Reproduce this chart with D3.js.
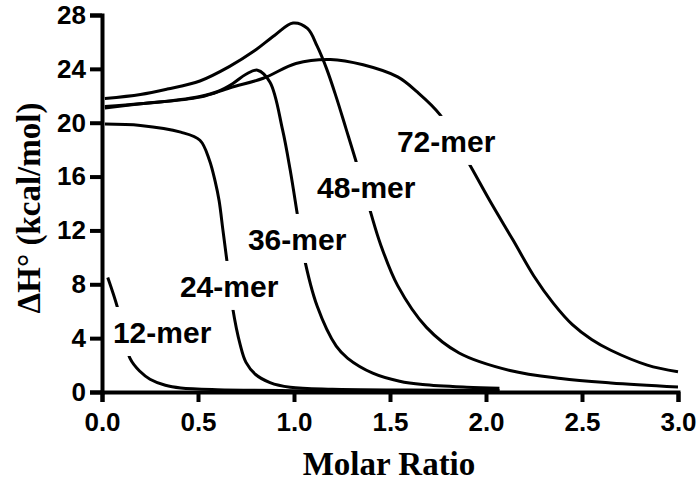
<!DOCTYPE html>
<html lang="en">
<head>
    <meta charset="UTF-8">
    <title>Molar Ratio vs dH</title>
    <script src="https://d3js.org/d3.v7.min.js"></script>
    <style>
        body { margin: 0; background: #fff; }
        .axis path,
        .axis line {
            fill: none;
            stroke: #000;
            stroke-width: 4px;
        }
        .axis text {
            font-family: "Liberation Sans", Arial, sans-serif;
            font-weight: bold;
            font-size: 26px;
            fill: #000;
        }
        .curve {
            fill: none;
            stroke: #000;
            stroke-width: 3px;
        }
        .label {
            font-family: "Liberation Sans", Arial, sans-serif;
            font-weight: bold;
            font-size: 30px;
        }
        .title {
            font-family: "Liberation Serif", "Times New Roman", serif;
            font-weight: bold;
            font-size: 33px;
        }
    </style>
</head>
<body>
<script>
    // values: molar ratio (x) and dH in kcal/mol (y)
    var ratio12 = [0.03, 0.08, 0.146, 0.2, 0.25, 0.33, 0.41, 0.6, 1.0, 1.5, 2.07];
    var dh12    = [8.5, 6.3, 2.5, 1.5, 0.95, 0.5, 0.3, 0.17, 0.1, 0.08, 0.07];

    var ratio24 = [0.015, 0.2, 0.41, 0.51, 0.56, 0.59, 0.61, 0.63, 0.65, 0.68, 0.72, 0.75, 0.8, 0.875, 0.98, 1.2, 1.6, 2.07];
    var dh24    = [19.9, 19.8, 19.3, 18.7, 17.2, 15.6, 14.2, 12.0, 9.8, 6.3, 3.5, 2.2, 1.3, 0.7, 0.35, 0.2, 0.15, 0.12];

    var ratio36 = [0.015, 0.2, 0.4, 0.51, 0.6, 0.68, 0.75, 0.81, 0.875, 0.94, 0.98, 1.015, 1.05, 1.12, 1.22, 1.28, 1.41, 1.55, 1.67, 1.9, 2.07];
    var dh36    = [21.2, 21.4, 21.7, 21.95, 22.3, 22.9, 23.6, 23.9, 23.0, 19.5, 16.5, 13.4, 10.2, 6.4, 3.4, 2.5, 1.4, 0.8, 0.55, 0.35, 0.27];

    var ratio48 = [0.015, 0.2, 0.34, 0.51, 0.667, 0.79, 0.9, 0.995, 1.07, 1.12, 1.17, 1.22, 1.27, 1.33, 1.4, 1.45, 1.54, 1.69, 1.86, 2.125, 2.39, 2.65, 3.0];
    var dh48    = [21.8, 22.1, 22.5, 23.1, 24.2, 25.3, 26.5, 27.4, 27.0, 25.7, 24.0, 21.9, 19.6, 16.8, 13.3, 11.0, 7.9, 4.8, 2.9, 1.6, 1.0, 0.67, 0.37];

    var ratio72 = [0.015, 0.2, 0.51, 0.667, 0.84, 1.01, 1.19, 1.36, 1.54, 1.64, 1.76, 1.91, 2.02, 2.14, 2.25, 2.35, 2.45, 2.55, 2.65, 2.84, 3.0];
    var dh72    = [21.1, 21.4, 21.9, 22.6, 23.3, 24.4, 24.7, 24.3, 23.4, 22.3, 20.6, 17.0, 14.2, 11.3, 8.6, 6.6, 5.0, 3.9, 3.1, 2.0, 1.5];

    var seriesNames = ["12-mer", "24-mer", "36-mer", "48-mer", "72-mer"];
    var seriesX = [ratio12, ratio24, ratio36, ratio48, ratio72];
    var seriesY = [dh12, dh24, dh36, dh48, dh72];

    // label anchors (left edge, baseline) in data units
    var labelX = [0.057, 0.406, 0.76, 1.12, 1.536];
    var labelY = [3.64, 7.06, 10.55, 14.41, 17.83];

    var xTicks = [0, 0.5, 1.0, 1.5, 2.0, 2.5, 3.0];
    var yTicks = [0, 4, 8, 12, 16, 20, 24, 28];

    var w = 699, h = 482;
    var padding = { top: 15, right: 21, bottom: 90, left: 102 };

    var svg = d3.select("body")
        .append("svg")
        .attr("width", w)
        .attr("height", h);

    var x = d3.scaleLinear().domain([0, 3]).range([padding.left, w - padding.right]);
    var y = d3.scaleLinear().domain([0, 28]).range([h - padding.bottom, padding.top]);

    var line = d3.line()
        .x(d => x(d[0]))
        .y(d => y(d[1]))
        .curve(d3.curveCatmullRom.alpha(0.5));

    seriesNames.forEach((name, i) => {
        var pts = seriesX[i].map((v, j) => [v, seriesY[i][j]]);
        svg.append("path")
            .attr("class", "curve")
            .attr("d", line(pts));
    });

    // labels sit on white boxes that cut the curves
    seriesNames.forEach((name, i) => {
        var g = svg.append("g");
        var bx = g.append("rect").attr("fill", "#fff");
        var t = g.append("text")
            .attr("class", "label")
            .attr("x", x(labelX[i]))
            .attr("y", y(labelY[i]))
            .text(name);
        var bb = t.node().getBBox();
        bx.attr("x", bb.x - 4)
          .attr("y", y(labelY[i]) - 36)
          .attr("width", bb.width + 8)
          .attr("height", 49);
    });

    var xAxis = d3.axisBottom(x)
        .tickValues(xTicks)
        .tickFormat(d3.format(".1f"))
        .tickSizeOuter(0)
        .tickSize(10)
        .tickPadding(11);

    var yAxis = d3.axisLeft(y)
        .tickValues(yTicks)
        .tickFormat(d3.format("d"))
        .tickSizeOuter(0)
        .tickSize(12)
        .tickPadding(4);

    svg.append("g")
        .attr("class", "x axis")
        .attr("transform", "translate(0," + (h - padding.bottom) + ")")
        .call(xAxis);

    svg.append("g")
        .attr("class", "y axis")
        .attr("transform", "translate(" + padding.left + ",0)")
        .call(yAxis);

    svg.append("text")
        .attr("class", "title")
        .attr("text-anchor", "middle")
        .attr("x", 389)
        .attr("y", 475)
        .text("Molar Ratio");

    svg.append("text")
        .attr("class", "title")
        .attr("text-anchor", "middle")
        .attr("transform", "translate(40,208) rotate(-90)")
        .text("\u0394H\u00b0 (kcal/mol)");
</script>
</body>
</html>
